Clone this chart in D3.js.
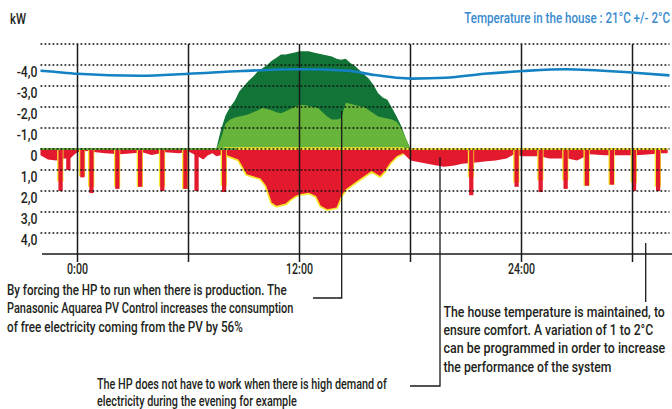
<!DOCTYPE html>
<html><head><meta charset="utf-8">
<script src="https://cdn.jsdelivr.net/npm/d3@7"></script>
<style>
html,body{margin:0;padding:0;background:#fff;}
svg{display:block;}
text{font-family:"Roboto","DejaVu Sans",sans-serif;font-weight:500;fill:#231f20;}
</style></head><body>
<svg id="chart" width="672" height="409"></svg>
<script>
// ---------- data ----------
const yTickValues = [-4, -3, -2, -1, 0, 1, 2, 3, 4];
const yTickLabels = ["-4,0", "-3,0", "-2,0", "-1,0", "0", "1,0", "2,0", "3,0", "4,0"];
const gridValues = [-5, -4, -3, -2, -1, 0, 1, 2, 3, 4];
const gridHours = [0, 6, 12, 18, 24, 30];
const xTickHours = [0, 12, 24];
const xTickLabels = ["0:00", "12:00", "24:00"];

// PV production (kW, drawn upward / negative on the axis)
const pvHours   = [7.5, 7.75, 8.0, 8.25, 8.5, 8.75, 9.0, 9.25, 9.5, 9.75, 10.0, 10.25, 10.5, 10.75, 11.0, 11.25, 11.5, 11.75, 12.0, 12.25, 12.5, 12.75, 13.0, 13.25, 13.5, 13.75, 14.0, 14.25, 14.5, 14.75, 15.0, 15.25, 15.5, 15.75, 16.0, 16.25, 16.5, 16.75, 17.0, 17.25, 17.5, 17.75, 18.0];
const pvTotalKW = [0, 0.9, 1.6, 2.0, 2.3, 2.75, 3.0, 3.25, 3.45, 3.7, 3.85, 4.0, 4.2, 4.35, 4.5, 4.5, 4.55, 4.6, 4.65, 4.65, 4.65, 4.6, 4.55, 4.5, 4.45, 4.4, 4.3, 4.25, 4.3, 4.1, 3.95, 3.75, 3.55, 3.35, 3.05, 2.65, 2.45, 2.35, 1.95, 1.55, 1.1, 0.5, 0];
const pvSelfKW  = [0, 0.5, 1.2, 1.4, 1.5, 1.55, 1.6, 1.65, 1.75, 1.85, 1.95, 1.9, 1.85, 1.75, 1.7, 1.8, 1.9, 2.0, 2.1, 2.1, 2.05, 2.0, 1.95, 1.75, 1.55, 1.4, 1.4, 1.45, 2.2, 2.15, 2.1, 2.05, 2.0, 1.85, 1.7, 1.55, 1.5, 1.45, 1.4, 1.3, 1.0, 0.5, 0];

// Consumption from the grid (kW, drawn downward)
const loadHours = [-2.0, -1.6, -1.15, -0.7, -0.4, -0.15, 0, 0.5, 1.0, 1.5, 2.3, 3.0, 3.5, 4.0, 4.75, 5.5, 6.0, 6.5, 6.8, 7.05, 7.3, 7.5, 7.95, 8.7, 8.9, 9.15, 9.5, 9.9, 10.2, 10.5, 10.75, 11.25, 11.5, 11.75, 12.0, 12.5, 12.9, 13.15, 13.5, 14.0, 14.25, 14.5, 15.0, 15.5, 15.9, 16.35, 16.6, 16.9, 17.25, 17.6, 18.0, 19.2, 19.8, 20.3, 20.8, 21.4, 22.0, 22.6, 23.2, 23.6, 24.0, 25.0, 25.5, 26.5, 27.0, 27.7, 28.5, 29.0, 30.2, 31.0, 31.5, 31.9];
const loadKW    = [0.3, 0.5, 0.55, 0.45, 0.45, 0.25, 0.15, 0.1, 0.15, 0.2, 0.25, 0.2, 0.15, 0.28, 0.15, 0.2, 0.12, 0.35, 0.5, 0.3, 0.2, 0.35, 0.25, 0.5, 0.8, 1.2, 1.3, 1.4, 1.75, 2.55, 2.7, 2.6, 2.4, 2.25, 2.15, 2.08, 2.24, 2.7, 2.87, 2.78, 2.24, 1.92, 1.6, 1.29, 1.05, 1.29, 1.05, 0.65, 0.34, 0.2, 0.55, 0.75, 0.85, 0.8, 0.7, 0.65, 0.6, 0.55, 0.45, 0.25, 0.35, 0.35, 0.45, 0.45, 0.55, 0.25, 0.3, 0.3, 0.3, 0.25, 0.2, 0.2];

// Heat-pump cycles (short peaks)
const spikeHours    = [-1.1, -0.68, 0.08, 0.57, 1.97, 3.2, 4.4, 5.65, 6.25, 7.74, 21.1, 23.55, 24.85, 26.2, 27.35, 28.7, 29.9, 31.2];
const spikeRedKW    = [2.0, 1.0, 1.35, 2.1, 1.9, 1.8, 2.0, 1.9, 2.0, 2.05, 2.2, 1.8, 2.05, 1.9, 1.75, 1.7, 2.0, 2.0];
const spikeYellowKW = [1.55, 0, 1.3, 1.8, 1.8, 1.8, 1.8, 1.9, 0, 1.75, 1.35, 1.6, 1.5, 1.5, 1.75, 1.7, 1.6, 1.8];

// House temperature (°C)
const tempHours = [-2, -1.8, 0, 3.4, 6, 8.9, 12, 14.6, 15.9, 18.1, 19.9, 22, 24.1, 26.4, 30.1, 32];
const tempC     = [21.8, 21.75, 21.05, 20.55, 21.05, 21.75, 22.2, 21.85, 20.85, 19.85, 20.05, 21.05, 21.75, 22.2, 21.3, 20.65];

// Texts
const titleText = "Temperature in the house : 21°C +/- 2°C";
const unitText = "kW";
const ann1Lines = ["By forcing the HP to run when there is production. The", "Panasonic Aquarea PV Control increases the consumption", "of free electricity coming from the PV by 56%"];
const ann2Lines = ["The HP does not have to work when there is high demand of", "electricity during the evening for example"];
const ann3Lines = ["The house temperature is maintained, to", "ensure comfort. A variation of 1 to 2°C", "can be programmed in order to increase", "the performance of the system"];

// ---------- drawing ----------
const svg = d3.select("#chart");
const x = d3.scaleLinear().domain([-2, 32]).range([40.5, 669.5]);
const y = d3.scaleLinear().domain([-5, 5]).range([44, 254]);
const tempY = d3.scaleLinear().domain([18, 24]).range([86, 62]);

const C = {red: "#e3192d", yellow: "#f5e62e", dark: "#137437", light: "#67b43b", blue: "#1381c2", title: "#3a8bd0"};

const pv = pvHours.map((h, i) => ({h, tot: pvTotalKW[i], self: pvSelfKW[i]}));
const load = loadHours.map((h, i) => ({h, v: loadKW[i]}));

svg.append("path").datum(pv)
  .attr("d", d3.area().x(d => x(d.h)).y0(y(0)).y1(d => y(-d.tot)))
  .attr("fill", C.dark);
svg.append("path").datum(pv)
  .attr("d", d3.area().x(d => x(d.h)).y0(y(0)).y1(d => y(-d.self)))
  .attr("fill", C.light);

const loadArea = d3.area().x(d => x(d.h)).y0(y(0)).y1(d => y(d.v));

svg.append("path").datum(load.filter(d => d.h >= 7.95 && d.h <= 17.6))
  .attr("d", loadArea)
  .attr("fill", C.yellow).attr("stroke", C.yellow).attr("stroke-width", 3.5).attr("stroke-linejoin", "round");

svg.append("path").datum(load)
  .attr("d", loadArea)
  .attr("fill", C.red);

const spikes = spikeHours.map((h, i) => ({h, r: spikeRedKW[i], yl: spikeYellowKW[i]}));
svg.append("g").selectAll("rect").data(spikes.filter(d => d.yl > 0)).join("rect")
  .attr("x", d => x(d.h)).attr("width", d => x(d.h + 0.34) - x(d.h))
  .attr("y", y(0)).attr("height", d => y(d.yl) - y(0))
  .attr("fill", C.yellow);
svg.append("g").selectAll("rect").data(spikes).join("rect")
  .attr("x", d => x(d.h + 0.07)).attr("width", d => x(d.h + 0.3) - x(d.h + 0.07))
  .attr("y", y(0)).attr("height", d => y(d.r) - y(0))
  .attr("fill", C.red);

svg.append("line").attr("x1", x(-2)).attr("x2", x(8.6)).attr("y1", y(0)).attr("y2", y(0))
  .attr("stroke", C.light).attr("stroke-width", 2);
svg.append("line").attr("x1", x(8.6)).attr("x2", x(31.9)).attr("y1", y(0)).attr("y2", y(0))
  .attr("stroke", C.yellow).attr("stroke-width", 2);

svg.append("g").selectAll("line").data(gridValues).join("line")
  .attr("x1", x(-2)).attr("x2", x(32)).attr("y1", d => y(d)).attr("y2", d => y(d))
  .attr("stroke", "#111").attr("stroke-width", 1.6).attr("stroke-dasharray", "1.8,2.2");

svg.append("g").selectAll("line").data(gridHours).join("line")
  .attr("x1", d => x(d)).attr("x2", d => x(d)).attr("y1", y(-5)).attr("y2", 262)
  .attr("stroke", "#1a1a1a").attr("stroke-width", 1.5);

svg.append("path").datum(tempHours.map((h, i) => ({h, t: tempC[i]})))
  .attr("d", d3.line().x(d => x(d.h)).y(d => tempY(d.t)).curve(d3.curveMonotoneX))
  .attr("fill", "none").attr("stroke", C.blue).attr("stroke-width", 2.6);

svg.append("line").attr("x1", 42).attr("x2", 672).attr("y1", y(5)).attr("y2", y(5))
  .attr("stroke", "#1a1a1a").attr("stroke-width", 1.5);

// ---- text helper: horizontally condensed text (real text, scaled) ----
function condText(parent, str, xPos, yPos, size, anchor, sx, color) {
  const g = parent.append("g");
  const t = g.append("text").attr("x", 0).attr("y", 0).attr("font-size", size)
    .attr("text-anchor", anchor).text(str);
  if (color) t.style("fill", color);
  g.attr("transform", `translate(${xPos},${yPos}) scale(${sx},1)`);
  return t;
}
function factor(str, size, width) {
  const p = svg.append("text").attr("font-size", size).text(str);
  const f = width / p.node().getComputedTextLength();
  p.remove();
  return f;
}

// y labels
const yg = svg.append("g");
const ySx = factor(yTickLabels[0], 15.5, 20.8);
yTickValues.forEach((v, i) => condText(yg, yTickLabels[i], 37.5, y(v) + 12.3, 15.5, "end", ySx));

// x labels
const xg = svg.append("g");
const xSx = factor(xTickLabels[1], 14, 27);
xTickHours.forEach((h, i) => condText(xg, xTickLabels[i], x(h), 274, 14, "middle", xSx));

// unit + title
const tg = svg.append("g");
condText(tg, unitText, 10, 24, 14.5, "start", factor(unitText, 14.5, 16));
condText(tg, titleText, 670, 23, 14.5, "end", factor(titleText, 14.5, 206), C.title);

// annotations: each line fitted to its width in the picture (null = keep previous factor)
function block(lines, x0, y0, dy, widths) {
  const g = svg.append("g");
  let f = 1;
  lines.forEach((s, i) => {
    if (widths[i] != null) f = factor(s, 13.8, widths[i]);
    condText(g, s, x0, y0 + i * dy, 13.8, "start", f);
  });
}
block(ann1Lines, 7, 295, 18.4, [280, 286.5, 236]);
block(ann2Lines, 97, 388.5, 17.8, [290, null]);
block(ann3Lines, 443.5, 316.7, 18.3, [221.5, 210, 222, 168]);

// leader lines
const leaders = [
  [[341.7, 111], [341.7, 298], [313, 298]],
  [[440, 157], [440, 386], [410, 386]],
  [[645.7, 243], [645.7, 302]]
];
svg.append("g").selectAll("path").data(leaders).join("path")
  .attr("d", d3.line()).attr("fill", "none").attr("stroke", "#1a1a1a").attr("stroke-width", 1.3);
</script>
</body></html>
